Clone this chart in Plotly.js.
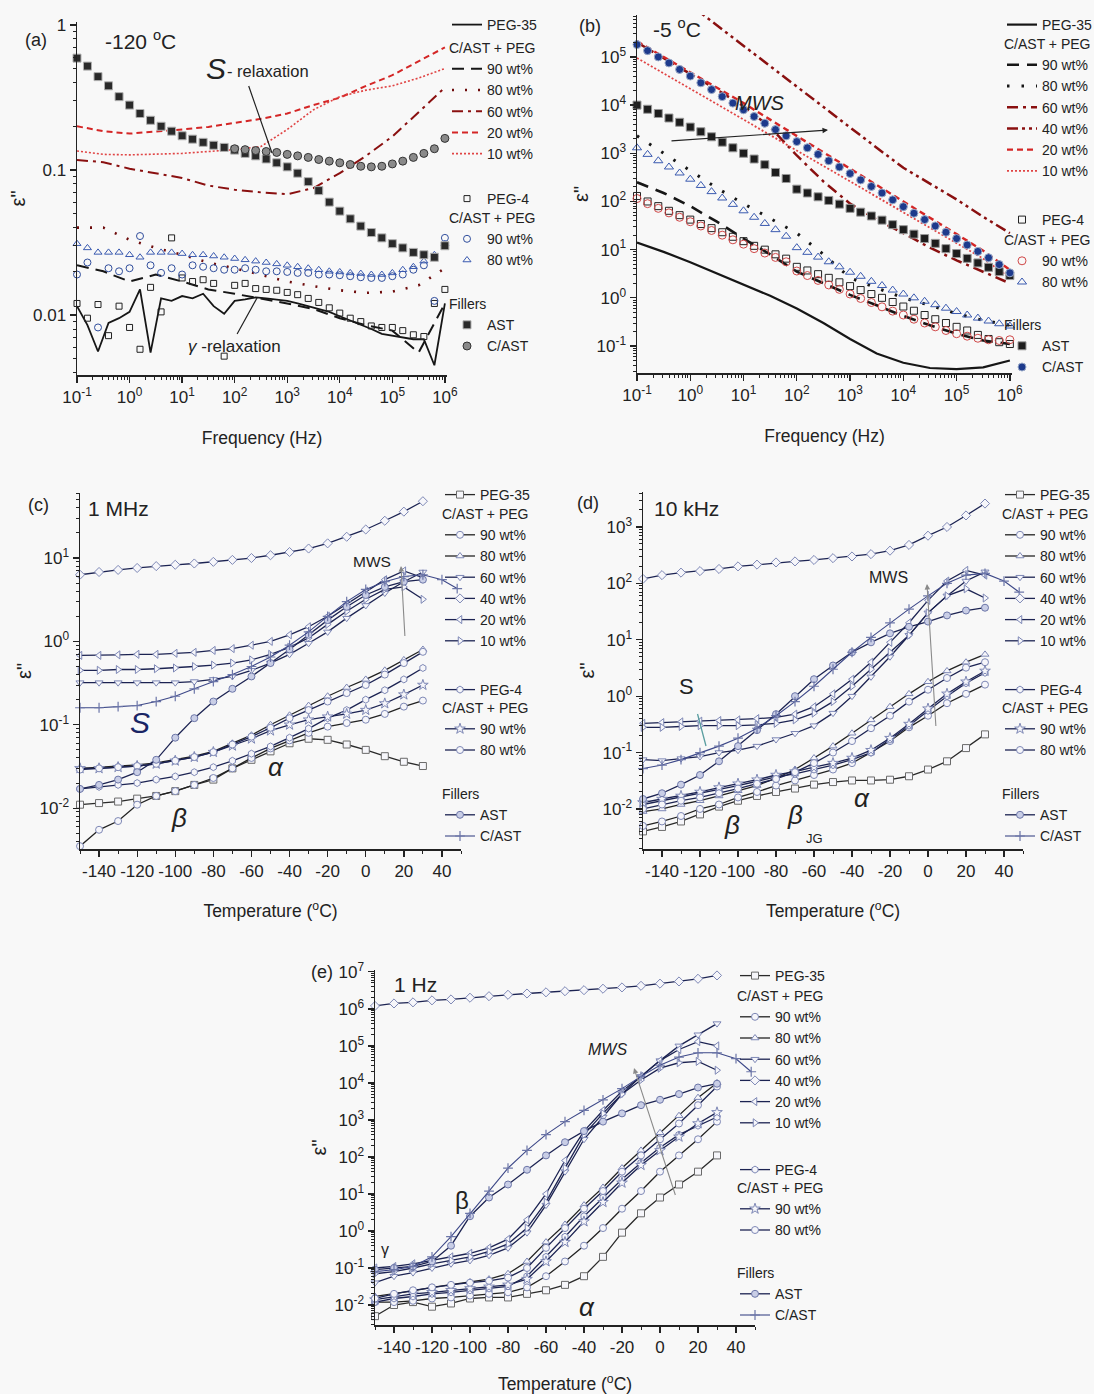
<!DOCTYPE html>
<html><head><meta charset="utf-8">
<script src="https://cdn.plot.ly/plotly-3.0.1.min.js"></script>
<style>html,body{margin:0;padding:0;background:#f8f8f8}#chart{width:1094px;height:1394px}</style>
</head><body><div id="chart"></div>
<script>
const W = 1094, H = 1394;
const FONT = '"Liberation Sans", Arial, Helvetica, sans-serif';

// ---------- frequency grids (Hz) ----------
const F5 = [0.1,0.158,0.251,0.398,0.631,1,1.58,2.51,3.98,6.31,10,15.8,25.1,39.8,63.1,100,158,251,398,631,1000,1580,2510,3980,6310,1e4,1.58e4,2.51e4,3.98e4,6.31e4,1e5,1.58e5,2.51e5,3.98e5,6.31e5,1e6];
const F2 = [0.1,0.316,1,3.16,10,31.6,100,316,1000,3160,1e4,3.16e4,1e5,3.16e5,1e6];
// ---------- temperature grids (°C) ----------
const T10 = [-150,-140,-130,-120,-110,-100,-90,-80,-70,-60,-50,-40,-30,-20,-10,0,10,20,30];
const T10x = [-150,-140,-130,-120,-110,-100,-90,-80,-70,-60,-50,-40,-30,-20,-10,0,10,20,30,40,48];

// ---------- (a) -120 °C ----------
const a_peg35 = [0.0115,0.0085,0.0056,0.0088,0.0095,0.0105,0.015,0.0055,0.013,0.0125,0.0135,0.013,0.014,0.0115,0.0102,0.0125,0.0128,0.0132,0.013,0.0128,0.0125,0.012,0.0115,0.011,0.0105,0.0098,0.0092,0.0086,0.008,0.0074,0.0072,0.007,0.0068,0.0068,0.0045,0.012];
const a_w90 = [0.022,0.02,0.017,0.019,0.017,0.015,0.014,0.013,0.012,0.011,0.0095,0.0085,0.0078,0.0055,0.012];
const a_w80 = [0.04,0.04,0.033,0.029,0.026,0.023,0.021,0.019,0.017,0.0158,0.0148,0.0142,0.0145,0.016,0.021];
const a_w60 = [0.117,0.113,0.102,0.095,0.088,0.078,0.073,0.07,0.068,0.075,0.095,0.125,0.17,0.25,0.37];
const a_w20 = [0.2,0.185,0.178,0.183,0.19,0.198,0.21,0.225,0.245,0.28,0.315,0.38,0.45,0.56,0.7];
const a_w10 = [0.135,0.128,0.127,0.128,0.13,0.134,0.138,0.145,0.19,0.26,0.32,0.355,0.38,0.43,0.5];
const a_peg4 = [0.012,0.0095,0.0118,0.0072,0.0115,0.0082,0.0058,0.0155,0.0105,0.034,0.018,0.017,0.0175,0.0165,0.0052,0.016,0.0165,0.0152,0.015,0.0148,0.0143,0.0138,0.013,0.0122,0.0112,0.0103,0.0095,0.009,0.0084,0.0082,0.0082,0.0078,0.0073,0.0071,0.012,0.015];
const a_p90 = [0.019,0.023,0.0082,0.021,0.02,0.021,0.035,0.022,0.0195,0.021,0.019,0.022,0.0215,0.021,0.0205,0.0205,0.021,0.0205,0.02,0.02,0.0198,0.0195,0.0195,0.019,0.019,0.0188,0.0185,0.0182,0.018,0.018,0.0185,0.019,0.0205,0.022,0.0125,0.034];
const a_p80 = [0.031,0.029,0.027,0.027,0.027,0.026,0.025,0.027,0.027,0.027,0.0265,0.026,0.026,0.0255,0.025,0.0245,0.024,0.0235,0.023,0.0225,0.022,0.0215,0.021,0.0205,0.02,0.0198,0.0195,0.0193,0.019,0.019,0.0195,0.0205,0.0215,0.0235,0.026,0.031];
const a_ast = [0.59,0.52,0.44,0.38,0.32,0.28,0.245,0.22,0.2,0.185,0.172,0.163,0.155,0.148,0.143,0.137,0.13,0.125,0.119,0.112,0.105,0.095,0.083,0.072,0.06,0.052,0.046,0.041,0.037,0.034,0.031,0.029,0.027,0.026,0.025,0.03];
const a_cast = [null,null,null,null,null,null,null,null,null,null,null,null,null,null,null,0.14,0.138,0.136,0.134,0.132,0.128,0.125,0.122,0.118,0.115,0.112,0.109,0.106,0.105,0.106,0.11,0.115,0.122,0.13,0.14,0.165];

// ---------- (b) -5 °C ----------
const b_peg35 = [14,9,5.5,3.2,1.9,1.1,0.6,0.3,0.14,0.07,0.045,0.035,0.033,0.036,0.05];
const b_w90 = [250,150,80,38,17,8,3.5,2.0,1.15,0.7,0.42,0.27,0.18,0.13,0.11];
const b_w80 = [2300,1000,420,190,90,45,22,8,2.6,1.6,1.0,0.7,0.47,0.34,0.27];
const b_w60 = [2.0e5,9.5e4,4.5e4,2.1e4,9500,3500,900,260,90,42,22,11,6,3.4,2.0];
const b_w40 = [null,null,1.2e6,4.5e5,1.7e5,6.4e4,2.4e4,9000,3400,1300,500,230,110,48,22];
const b_w20 = [2.1e5,1.0e5,4.8e4,2.3e4,1.1e4,5000,2300,1050,480,220,100,47,21,9.5,3.8];
const b_w10 = [9.5e4,4.5e4,2.2e4,1.05e4,5000,2400,1150,550,260,125,60,29,14,6.5,2.6];
const b_peg4 = [130,100,80,64,52,42,34,28,23,18.5,15,12,10,8,6.5,4.4,3.7,3.1,2.6,2.1,1.75,1.45,1.2,1.0,0.82,0.66,0.54,0.44,0.36,0.3,0.25,0.21,0.17,0.14,0.12,0.11];
const b_p90 = [115,90,72,58,47,38,31,25,20,16,13,10.5,8.5,6.9,5.6,3.6,2.9,2.3,1.85,1.5,1.2,0.97,0.8,0.65,0.53,0.44,0.36,0.3,0.25,0.21,0.18,0.16,0.145,0.135,0.13,0.135];
const b_p80 = [1300,950,700,520,390,290,215,160,118,87,64,47,35,26,19,11,8.8,7.0,5.6,4.4,3.4,2.8,2.2,1.8,1.45,1.2,1.0,0.85,0.72,0.61,0.52,0.44,0.38,0.33,0.29,0.26];
const b_ast = [1.0e4,8200,6700,5400,4400,3500,2800,2200,1700,1300,1000,760,580,400,300,180,150,125,105,88,72,60,50,41,33,26,21,17,13.5,10.5,8.3,6.6,5.3,4.3,3.5,2.9];
const b_cast = [1.8e5,1.35e5,1.0e5,7.5e4,5.5e4,4.0e4,2.9e4,2.1e4,1.5e4,1.1e4,8000,5800,4200,3100,2300,1750,1300,950,700,520,380,280,205,150,108,78,57,42,31,23,17,12.5,9.2,6.8,4.9,3.3];

// ---------- (c) 1 MHz ----------
const c_peg35 = [0.011,0.0115,0.012,0.013,0.014,0.016,0.019,0.022,0.03,0.038,0.048,0.06,0.068,0.066,0.058,0.05,0.042,0.036,0.032];
const c_w90 = [0.0035,0.0055,0.007,0.011,0.014,0.016,0.019,0.023,0.03,0.04,0.052,0.065,0.08,0.095,0.105,0.115,0.135,0.165,0.195];
const c_w80 = [0.03,0.031,0.032,0.033,0.035,0.038,0.042,0.048,0.06,0.075,0.1,0.13,0.17,0.22,0.28,0.35,0.45,0.6,0.8];
const c_w60 = [0.32,0.32,0.32,0.32,0.32,0.32,0.33,0.35,0.38,0.45,0.55,0.7,0.95,1.3,1.9,2.7,3.8,5.2,6.8];
const c_w40 = [6.3,6.8,7.2,7.6,8.0,8.3,8.6,9.0,9.5,10,10.8,11.8,13,15,18,22,28,36,48];
const c_w20 = [0.68,0.68,0.69,0.7,0.7,0.72,0.74,0.78,0.82,0.9,1.0,1.2,1.5,2.0,2.8,4.0,5.5,7.0,5.8];
const c_w10 = [0.45,0.45,0.46,0.46,0.47,0.48,0.5,0.52,0.55,0.6,0.7,0.85,1.1,1.6,2.3,3.2,4.2,4.5,3.2];
const c_peg4 = [0.017,0.018,0.019,0.02,0.022,0.024,0.027,0.031,0.037,0.045,0.055,0.07,0.09,0.12,0.15,0.2,0.26,0.35,0.48];
const c_p90 = [0.03,0.03,0.031,0.032,0.034,0.037,0.041,0.047,0.056,0.068,0.085,0.1,0.115,0.125,0.135,0.15,0.18,0.23,0.3];
const c_p80 = [0.029,0.03,0.031,0.032,0.034,0.037,0.041,0.047,0.058,0.072,0.092,0.12,0.15,0.19,0.24,0.3,0.4,0.55,0.75];
const c_ast = [0.017,0.019,0.022,0.027,0.038,0.07,0.12,0.19,0.27,0.38,0.55,0.8,1.2,1.8,2.6,3.6,4.5,5.2,5.5];
const c_cast = [0.16,0.16,0.165,0.17,0.19,0.22,0.27,0.33,0.4,0.5,0.65,0.9,1.3,2.0,3.0,4.2,5.2,6.0,6.3,5.5,4.3];

// ---------- (d) 10 kHz ----------
const d_peg35 = [0.004,0.0048,0.006,0.008,0.011,0.014,0.017,0.02,0.023,0.027,0.03,0.032,0.032,0.033,0.038,0.05,0.07,0.12,0.21];
const d_w90 = [0.005,0.006,0.0075,0.01,0.012,0.016,0.02,0.026,0.032,0.04,0.05,0.065,0.1,0.16,0.28,0.45,0.75,1.1,1.6];
const d_w80 = [0.009,0.01,0.012,0.014,0.017,0.021,0.026,0.035,0.05,0.08,0.13,0.22,0.38,0.65,1.1,1.8,2.8,4.0,5.5];
const d_w60 = [0.075,0.072,0.078,0.085,0.1,0.11,0.13,0.17,0.22,0.3,0.5,1.0,2.2,5,12,30,60,110,160];
const d_w40 = [120,140,155,165,180,200,215,235,245,260,280,300,330,380,480,700,1000,1600,2600];
const d_w20 = [0.33,0.34,0.35,0.36,0.37,0.38,0.4,0.42,0.48,0.65,1.1,2.0,4,9,20,50,110,170,140];
const d_w10 = [0.28,0.28,0.29,0.3,0.3,0.3,0.31,0.33,0.38,0.5,0.8,1.5,3,6,12,30,60,80,55];
const d_peg4 = [0.012,0.014,0.016,0.019,0.022,0.026,0.031,0.037,0.042,0.05,0.06,0.075,0.1,0.17,0.3,0.55,1.0,1.7,2.6];
const d_p90 = [0.013,0.015,0.017,0.02,0.024,0.028,0.033,0.04,0.046,0.055,0.065,0.08,0.11,0.18,0.32,0.6,1.1,1.8,2.8];
const d_p80 = [0.01,0.012,0.014,0.016,0.019,0.023,0.028,0.034,0.045,0.065,0.1,0.16,0.27,0.45,0.8,1.3,2.1,3.2,4.0];
const d_ast = [0.015,0.019,0.027,0.04,0.07,0.13,0.25,0.48,1.0,2.0,3.5,6,9,13,17,21,27,33,37];
const d_cast = [0.052,0.06,0.075,0.1,0.13,0.18,0.27,0.45,0.8,1.5,3,6,11,20,35,60,100,140,150,110,70];

// ---------- (e) 1 Hz ----------
const e_peg35 = [0.005,0.01,0.012,0.009,0.011,0.015,0.016,0.016,0.02,0.025,0.035,0.06,0.2,0.9,3,8,18,40,110];
const e_w90 = [0.012,0.012,0.013,0.015,0.016,0.018,0.02,0.022,0.03,0.06,0.15,0.4,1.2,4,12,40,110,300,900];
const e_w80 = [0.017,0.02,0.024,0.03,0.035,0.042,0.05,0.07,0.15,0.5,1.5,5,15,50,150,450,1300,4000,10000];
const e_w60 = [0.04,0.06,0.075,0.1,0.13,0.16,0.22,0.35,0.9,5,40,300,1200,5000,15000,40000,100000,200000,400000];
const e_w40 = [1.2e6,1.4e6,1.5e6,1.7e6,1.8e6,2.0e6,2.2e6,2.4e6,2.6e6,2.8e6,3.0e6,3.2e6,3.5e6,3.8e6,4.2e6,4.8e6,5.5e6,6.5e6,8e6];
const e_w20 = [0.1,0.11,0.13,0.16,0.2,0.25,0.35,0.6,2,10,80,500,1800,6000,15000,40000,80000,130000,100000];
const e_w10 = [0.07,0.08,0.1,0.13,0.16,0.2,0.28,0.45,1.2,6,50,400,1500,5000,12000,25000,35000,38000,22000];
const e_peg4 = [0.012,0.015,0.017,0.02,0.022,0.025,0.028,0.032,0.06,0.2,0.7,2.5,8,25,70,180,400,700,1200];
const e_p90 = [0.014,0.017,0.02,0.022,0.025,0.028,0.031,0.035,0.05,0.15,0.5,1.8,6,20,60,150,350,800,1600];
const e_p80 = [0.015,0.02,0.025,0.03,0.035,0.04,0.045,0.055,0.1,0.35,1.2,4,12,40,110,300,800,2500,8000];
const e_ast = [0.09,0.1,0.11,0.15,0.4,2.5,8,18,45,110,250,500,900,1500,2500,3500,5000,7500,9500];
const e_cast = [0.08,0.09,0.11,0.2,0.7,3,12,50,150,400,900,1800,3500,7000,15000,30000,50000,65000,65000,45000,20000];

// ---------- helpers ----------
const px = v => v / W, py = v => 1 - v / H;
const traces = [];
function axId(p, t) { return t + (p === 0 ? '' : (p + 1)); }
function legId(p, s) { const n = p * 5 + s; return n === 1 ? 'legend' : 'legend' + n; }
function add(p, s, name, x, y, st) {
  traces.push(Object.assign({ type: 'scatter', name: name, x: x, y: y,
    xaxis: axId(p, 'x'), yaxis: axId(p, 'y'), legend: legId(p, s),
    cliponaxis: false, hoverinfo: 'skip', connectgaps: false }, st));
}
const L = (color, dash, width) => ({ mode: 'lines', line: { color: color, dash: dash, width: width } });
const M = (symbol, size, color, lc, lw) => ({ mode: 'markers', marker: { symbol: symbol, size: size, color: color, line: { color: lc, width: lw } } });
const LM = (symbol, lineColor, mk, size) => ({ mode: 'lines+markers', line: { color: lineColor, width: 1.3 },
  marker: { symbol: symbol, size: size || 7, color: '#f6f6fa', line: { color: mk, width: 1 } } });

const BLK = '#161616', DRED = '#8a1010', RED = '#d42626', RED2 = '#e04444';
// (a)
add(0,1,'PEG-35',F5,a_peg35,L(BLK,'solid',1.8));
add(0,2,'90 wt%',F2,a_w90,L(BLK,'12px,7px',2));
add(0,2,'80 wt%',F2,a_w80,L('#6e0c0c','2px,11px',2.6));
add(0,2,'60 wt%',F2,a_w60,L(DRED,'11px,5px,3px,5px',2));
add(0,2,'20 wt%',F2,a_w20,L(RED,'6px,4px',2));
add(0,2,'10 wt%',F2,a_w10,L(RED2,'2px,2px',1.6));
add(0,3,'PEG-4',F5,a_peg4,M('square-open',6,'#222','#222',1));
add(0,4,'90 wt%',F5,a_p90,M('circle-open',7,'#2f4d9c','#2f4d9c',1));
add(0,4,'80 wt%',F5,a_p80,M('triangle-up-open',7,'#3a5ab0','#3a5ab0',1));
add(0,5,'AST',F5,a_ast,M('square',8,'#2a2a2a','#b0b0b0',1));
add(0,5,'C/AST',F5,a_cast,M('circle',8,'#8a8a8a','#333',1));
// (b)
add(1,1,'PEG-35',F2,b_peg35,L(BLK,'solid',2.2));
add(1,2,'90 wt%',F2,b_w90,L(BLK,'12px,8px',2.6));
add(1,2,'80 wt%',F2,b_w80,L(BLK,'2.5px,12px',3));
add(1,2,'60 wt%',F2,b_w60,L(DRED,'11px,5px,3px,5px',2.5));
add(1,2,'40 wt%',F2,b_w40,L(DRED,'11px,4px,3px,4px,3px,4px',2.5));
add(1,2,'20 wt%',F2,b_w20,L(RED,'6px,4px',2.4));
add(1,2,'10 wt%',F2,b_w10,L(RED2,'2px,2px',1.8));
add(1,3,'PEG-4',F5,b_peg4,M('square-open',7,'#222','#222',1));
add(1,4,'90 wt%',F5,b_p90,M('circle-open',8,'#d04848','#d04848',1));
add(1,4,'80 wt%',F5,b_p80,M('triangle-up-open',8,'#3a5ab0','#3a5ab0',1));
add(1,5,'AST',F5,b_ast,M('square',8,'#1e1e1e','#9a9a9a',1));
add(1,5,'C/AST',F5,b_cast,M('circle',8,'#1d3a8c','#9aaac8',1));
// (c)-(e)
const NAVY = '#1c2352', MK = '#7d87b5';
const TS = [
  [c_peg35,c_w90,c_w80,c_w60,c_w40,c_w20,c_w10,c_peg4,c_p90,c_p80,c_ast,c_cast],
  [d_peg35,d_w90,d_w80,d_w60,d_w40,d_w20,d_w10,d_peg4,d_p90,d_p80,d_ast,d_cast],
  [e_peg35,e_w90,e_w80,e_w60,e_w40,e_w20,e_w10,e_peg4,e_p90,e_p80,e_ast,e_cast]
];
TS.forEach((S, i) => {
  const p = i + 2;
  add(p,1,'PEG-35',T10,S[0],LM('square','#2a2a2a','#6a6a6a'));
  add(p,2,'90 wt%',T10,S[1],LM('circle','#222',MK));
  add(p,2,'80 wt%',T10,S[2],LM('triangle-up','#222',MK));
  add(p,2,'60 wt%',T10,S[3],LM('triangle-down',NAVY,MK));
  add(p,2,'40 wt%',T10,S[4],LM('diamond',NAVY,MK));
  add(p,2,'20 wt%',T10,S[5],LM('triangle-left',NAVY,MK));
  add(p,2,'10 wt%',T10,S[6],LM('triangle-right',NAVY,MK));
  add(p,3,'PEG-4',T10,S[7],LM('hexagon',NAVY,MK));
  add(p,4,'90 wt%',T10,S[8],LM('star',NAVY,MK,8));
  add(p,4,'80 wt%',T10,S[9],LM('circle',NAVY,MK));
  add(p,5,'AST',T10,S[10],{mode:'lines+markers',line:{color:NAVY,width:1.3},marker:{symbol:'circle',size:7,color:'#c9cee6',line:{color:'#6c76a8',width:1}}});
  add(p,5,'C/AST',T10x,S[11],{mode:'lines+markers',line:{color:'#3d4888',width:1.1},marker:{symbol:'cross-thin',size:7,line:{color:'#6c76a8',width:1.2}}});
});

// ---------- layout ----------
const sup = e => '10<sup>' + e + '</sup>';
const panels = [
  {xd:[77,447], yd:[22,375], xr:[-1,6.04], yr:[-2.414,0.02], xt:'log', yv:[0.01,0.1,1], yt:['0.01','0.1','1'], xtitle:'Frequency (Hz)', xs:26},
  {xd:[637,1012], yd:[15,373], xr:[-1,6.04], yr:[-1.56,5.87], xt:'log', yv:[0.1,1,10,100,1e3,1e4,1e5], yt:[-1,0,1,2,3,4,5].map(sup), xtitle:'Frequency (Hz)', xs:26},
  {xd:[80,461], yd:[493,849], xr:[-150,50], yr:[-2.49,1.78], xt:'linear', yv:[0.01,0.1,1,10], yt:[-2,-1,0,1].map(sup), xtitle:'Temperature (<sup>o</sup>C)', xs:25},
  {xd:[643,1023], yd:[492,849], xr:[-150,50], yr:[-2.71,3.62], xt:'linear', yv:[0.01,0.1,1,10,100,1000], yt:[-2,-1,0,1,2,3].map(sup), xtitle:'Temperature (<sup>o</sup>C)', xs:25},
  {xd:[375,755], yd:[970,1325], xr:[-150,50], yr:[-2.54,7.05], xt:'linear', yv:[0.01,0.1,1,10,100,1e3,1e4,1e5,1e6,1e7], yt:[-2,-1,0,1,2,3,4,5,6,7].map(sup), xtitle:'Temperature (<sup>o</sup>C)', xs:22}
];
const FREQV = [0.1,1,10,100,1e3,1e4,1e5,1e6];
const TEMPV = [-140,-120,-100,-80,-60,-40,-20,0,20,40];
const layout = {
  width: W, height: H, paper_bgcolor: '#f8f8f8', plot_bgcolor: '#f8f8f8',
  margin: {l:0, r:0, t:0, b:0, autoexpand:false},
  font: {family: FONT, color: '#222', size: 14},
  showlegend: true, annotations: []
};
const base = {showline:true, linecolor:'#222', linewidth:1.5, ticks:'outside', ticklen:6, tickwidth:1.3, tickcolor:'#222',
  showgrid:false, zeroline:false, mirror:false, fixedrange:true, tickfont:{family:FONT, size:17, color:'#222'}};
panels.forEach((P, p) => {
  const xa = Object.assign({}, base, {
    domain:[px(P.xd[0]), px(P.xd[1])], range:P.xr, type:P.xt, anchor:axId(p,'y'),
    title:{text:P.xtitle, font:{family:FONT, size:17.5, color:'#222'}, standoff:P.xs}
  });
  if (P.xt === 'log') {
    Object.assign(xa, {tickmode:'array', tickvals:FREQV, ticktext:[-1,0,1,2,3,4,5,6].map(sup),
      minor:{ticks:'outside', ticklen:3, tickwidth:1, tickcolor:'#222', dtick:'D1', showgrid:false}});
  } else {
    Object.assign(xa, {tickmode:'array', tickvals:TEMPV, ticktext:TEMPV.map(String),
      minor:{ticks:'outside', ticklen:3, tickwidth:1, tickcolor:'#222', dtick:10, tick0:-150, showgrid:false}});
  }
  const ya = Object.assign({}, base, {
    domain:[py(P.yd[1]), py(P.yd[0])], range:P.yr, type:'log', anchor:axId(p,'x'),
    tickmode:'array', tickvals:P.yv, ticktext:P.yt,
    minor:{ticks:'outside', ticklen:3, tickwidth:1, tickcolor:'#222', dtick:'D1', showgrid:false},
    title:{text:'ε"', font:{family:FONT, size:20, color:'#222'}, standoff:2}
  });
  layout[p === 0 ? 'xaxis' : 'xaxis' + (p + 1)] = xa;
  layout[p === 0 ? 'yaxis' : 'yaxis' + (p + 1)] = ya;
});

// legends: 5 per panel
const legX = [447, 1002, 440, 1000, 735];
const legRows = [[20,46,194,216,302],[20,42,215,238,323],[490,512,685,706,792],[490,512,685,706,792],[971,994,1165,1186,1271]];
const legTitles = [null, 'C/AST + PEG', null, 'C/AST + PEG', 'Fillers'];
for (let p = 0; p < 5; p++) {
  for (let s = 1; s <= 5; s++) {
    const lg = {x: px(legX[p]), y: py(legRows[p][s-1] - 11), xanchor:'left', yanchor:'top', xref:'paper', yref:'paper',
      bgcolor:'rgba(0,0,0,0)', borderwidth:0, itemwidth:30, tracegroupgap:0, traceorder:'normal',
      font:{family:FONT, size:14, color:'#222'}, itemclick:false, itemdoubleclick:false};
    if (legTitles[s-1]) lg.title = {text: legTitles[s-1], side:'top', font:{family:FONT, size:14, color:'#222'}};
    layout[legId(p, s)] = lg;
  }
}

// annotations (paper coords)
function T(text, x, y, size, extra) {
  layout.annotations.push(Object.assign({text:text, x:px(x), y:py(y), xref:'paper', yref:'paper', showarrow:false,
    xanchor:'center', yanchor:'middle', font:{family:FONT, size:size, color:'#222'}}, extra || {}));
}
function A(hx, hy, tx, ty, color, head, width) {
  layout.annotations.push({text:' ', x:px(hx), y:py(hy), xref:'paper', yref:'paper', showarrow:true,
    ax: tx - hx, ay: ty - hy, axref:'pixel', ayref:'pixel', arrowhead: head, arrowsize:1, arrowwidth: width || 1.2,
    arrowcolor: color, standoff:0, startstandoff:0, font:{size:1}});
}
// (a)
T('(a)', 36, 40, 18); T('-120 <sup>o</sup>C', 140, 40, 21);
T('<i>S</i>', 216, 68, 30); T('- relaxation', 268, 71, 16.5);
T('<i>γ</i> -relaxation', 234, 347, 17);
A(272, 153, 248, 84, '#222', 0, 1.2); A(257, 298, 236, 336, '#222', 0, 1.2);
// (b)
T('(b)', 590, 26, 18); T('-5 <sup>o</sup>C', 677, 28, 21);
T('<i>MWS</i>', 760, 103, 20);
A(828, 130, 670, 141, '#222', 2, 1.1);
// (c)
T('(c)', 38, 505, 18); T('1 MHz', 118, 508, 21);
T('MWS', 372, 561, 15.5); A(401, 566, 405, 638, '#8a8a8a', 2, 1.1);
T('<i>S</i>', 140, 722, 30, {font:{family:FONT, size:30, color:'#1a2565'}});
T('<i>α</i>', 276, 767, 26); T('<i>β</i>', 179, 818, 26);
// (d)
T('(d)', 588, 503, 18); T('10 kHz', 686, 508, 21);
T('MWS', 888, 578, 16); A(927, 584, 936, 728, '#8a8a8a', 2, 1.1);
T('S', 686, 686, 22); A(706, 746, 697, 712, '#5a9ea0', 0, 1.3);
T('<i>β</i>', 732, 825, 26); T('<i>β</i>', 795, 815, 26); T('JG', 814, 838, 13);
T('<i>α</i>', 862, 798, 26);
// (e)
T('(e)', 322, 972, 18); T('1 Hz', 415, 984, 21);
T('<i>MWS</i>', 607, 1049, 16); A(634, 1068, 676, 1197, '#8a8a8a', 2, 1.1);
T('β', 462, 1200, 24); T('γ', 385, 1249, 16); T('<i>α</i>', 587, 1307, 26);

Plotly.newPlot('chart', traces, layout, {staticPlot:true, displayModeBar:false});
</script></body></html>
